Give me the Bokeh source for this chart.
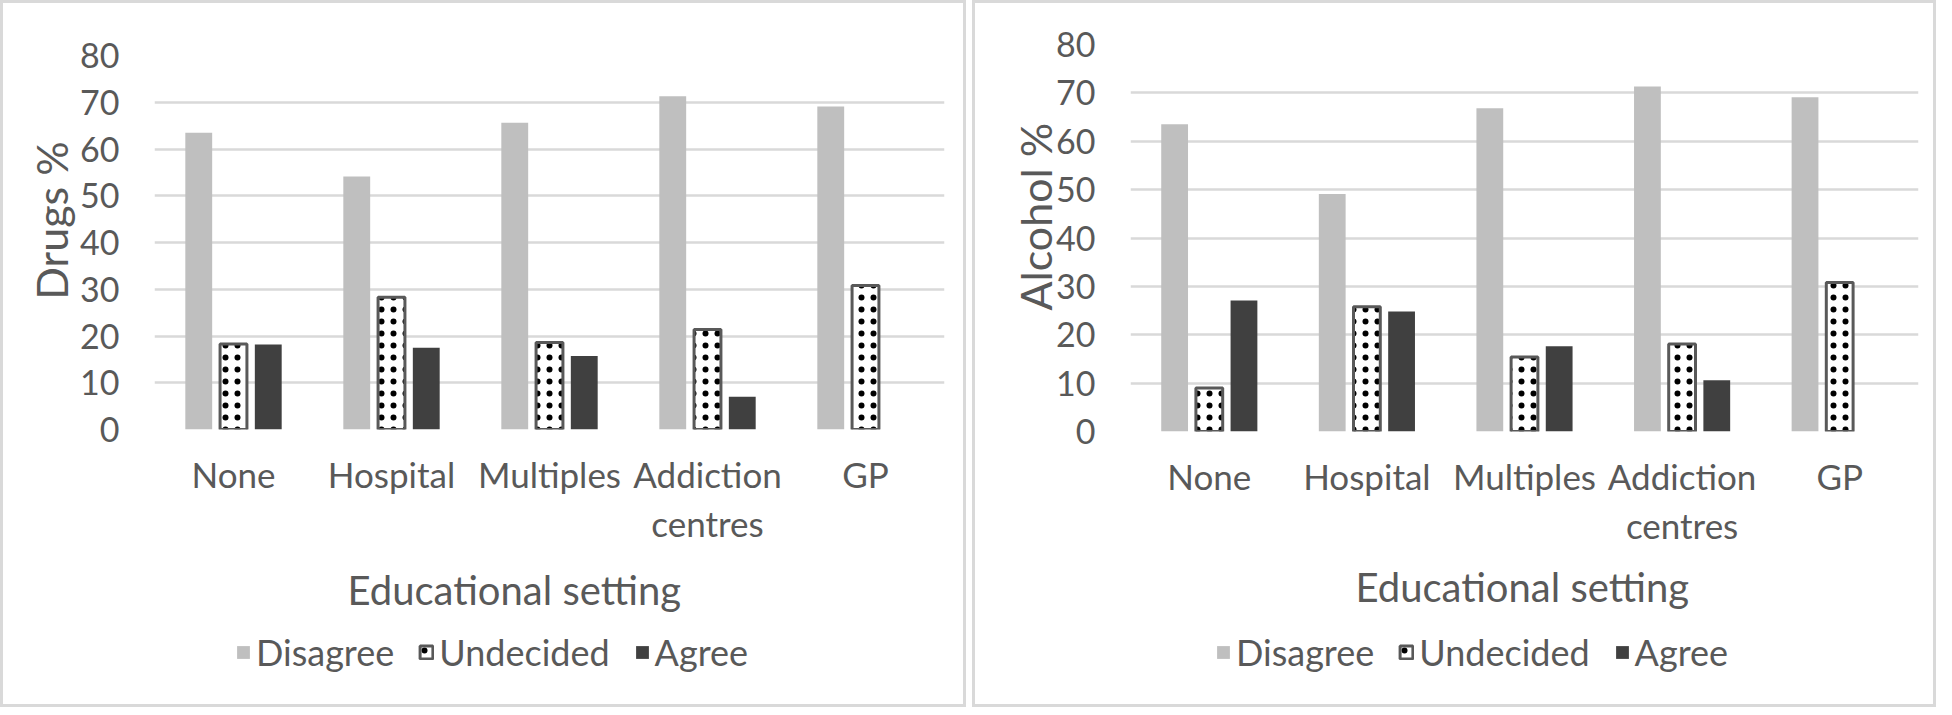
import json
from bokeh.plotting import figure
from bokeh.models import (FactorRange, Range1d, Legend, LegendItem, Title, FixedTicker,
                          CategoricalAxis, CustomJSTickFormatter)
from bokeh.transform import dodge
from bokeh.layouts import row, column
from bokeh.embed import file_html
from bokeh.resources import INLINE

categories = ["None", "Hospital", "Multiples", "Addiction centres", "GP"]
label_line1 = {"Addiction centres": "Addiction"}
label_line2 = {"Addiction centres": "centres"}
series_names = ["Disagree", "Undecided", "Agree"]

drugs_disagree = [63.5, 54.1, 65.6, 71.3, 69.1]
drugs_undecided = [18.3, 28.3, 18.6, 21.4, 30.8]
drugs_agree = [18.2, 17.5, 15.7, 7.0, 0.0]

alcohol_disagree = [63.5, 49.1, 66.8, 71.3, 69.1]
alcohol_undecided = [9.0, 25.8, 15.4, 18.1, 30.8]
alcohol_agree = [27.1, 24.8, 17.6, 10.6, 0.0]

y_ticks = [0, 10, 20, 30, 40, 50, 60, 70, 80]
x_title = "Educational setting"

FONT = "Lato"
TXT = "#595959"
BORDER = "3px solid #d9d9d9"
NBSP = "\u00a0"
STYLES = [
    dict(fill_color="#bfbfbf", line_color=None),
    dict(fill_color="white", line_color="#595959", line_width=3,
         hatch_pattern="dot", hatch_color="black", hatch_scale=12, hatch_weight=2.3),
    dict(fill_color="#404040", line_color=None),
]


def style_x(ax, mapping, default_same, standoff):
    ax.axis_line_color = None
    ax.major_tick_line_color = None
    ax.major_tick_out = 0
    ax.major_tick_in = 0
    ax.major_label_standoff = standoff
    ax.major_label_text_font = FONT
    ax.major_label_text_font_size = "35px"
    ax.major_label_text_color = TXT
    fallback = "tick" if default_same else "''"
    ax.formatter = CustomJSTickFormatter(
        code="const m = %s; return (tick in m) ? m[tick] : %s;" % (json.dumps(mapping), fallback))


def make_panel(ylabel, lab_shift, lab_standoff, dis, und, agr, width, mb_left, mb_right,
               mb_top, mb_bottom, title_offset, title_standoff, legend_x):
    data = dict(cat=categories, dis=dis, und=und, agr=agr)
    p = figure(x_range=FactorRange(factors=categories, range_padding=0),
               y_range=Range1d(0, 80), width=width, height=551,
               min_border_left=mb_left, min_border_right=mb_right,
               min_border_top=mb_top, min_border_bottom=mb_bottom,
               output_backend="svg", toolbar_location=None, tools="")
    p.styles = {"border": BORDER, "border-bottom": "none", "box-sizing": "border-box"}
    p.vbar(x=dodge("cat", -0.22, range=p.x_range), top="dis", width=0.17, source=data, **STYLES[0])
    p.vbar(x=dodge("cat", 0.0, range=p.x_range), top="und", width=0.17, source=data, **STYLES[1])
    p.vbar(x=dodge("cat", 0.22, range=p.x_range), top="agr", width=0.17, source=data, **STYLES[2])

    p.outline_line_color = None
    p.xgrid.grid_line_color = None
    p.ygrid.grid_line_color = "#d9d9d9"
    p.ygrid.grid_line_width = 2.5
    p.ygrid.level = "underlay"

    p.yaxis.ticker = FixedTicker(ticks=y_ticks)
    p.yaxis.axis_line_color = None
    p.yaxis.major_tick_line_color = None
    p.yaxis.minor_tick_line_color = None
    p.yaxis.major_tick_out = 0
    p.yaxis.major_label_standoff = 35
    p.yaxis.major_label_text_font = FONT
    p.yaxis.major_label_text_font_size = "34px"
    p.yaxis.major_label_text_color = TXT
    p.yaxis.axis_label = NBSP * lab_shift + ylabel
    p.yaxis.axis_label_text_font = FONT
    p.yaxis.axis_label_text_font_size = "43px"
    p.yaxis.axis_label_text_font_style = "normal"
    p.yaxis.axis_label_text_color = TXT
    p.yaxis.axis_label_standoff = lab_standoff

    style_x(p.xaxis[0], label_line1, True, 23)
    ax2 = CategoricalAxis()
    style_x(ax2, label_line2, False, 4)
    p.add_layout(ax2, "below")

    # title + legend strip
    t = Title(text=x_title, align="left", offset=title_offset, vertical_align="bottom",
              text_font=FONT, text_font_size="40px", text_font_style="normal",
              text_color=TXT, standoff=title_standoff)
    q = figure(title=t, title_location="above",
               x_range=Range1d(0, 1), y_range=Range1d(0, 1), width=width, height=156,
               min_border_left=mb_left, min_border_right=mb_right,
               min_border_top=0, min_border_bottom=0,
               x_axis_location=None, y_axis_location=None,
               output_backend="svg", toolbar_location=None, tools="")
    q.styles = {"border": BORDER, "border-top": "none", "box-sizing": "border-box"}
    q.outline_line_color = None
    q.grid.visible = False
    rs = [q.vbar(x=[0.5], top=[1], width=0.1, visible=False, **s) for s in STYLES]
    items = [LegendItem(label=n, renderers=[r]) for n, r in zip(series_names, rs)]
    lg = Legend(items=items, orientation="horizontal", location=(legend_x, 33),
                margin=0, padding=0, spacing=24, label_standoff=5,
                glyph_width=16, glyph_height=16, click_policy="none",
                label_text_font=FONT, label_text_font_size="36px", label_text_color=TXT,
                border_line_color=None, background_fill_color=None)
    q.add_layout(lg, "center")
    return column(p, q, spacing=0)


left = make_panel("Drugs %", 4, 0, drugs_disagree, drugs_undecided, drugs_agree,
                  966, 151, 25, 52, 125, 193, 24, 81)
right = make_panel("Alcohol %", 4, -8, alcohol_disagree, alcohol_undecided, alcohol_agree,
                   964, 155, 21, 41, 123, 225, 18, 85)

layout = row(left, right, spacing=6)
open("out.html", "w").write(file_html(layout, INLINE))
